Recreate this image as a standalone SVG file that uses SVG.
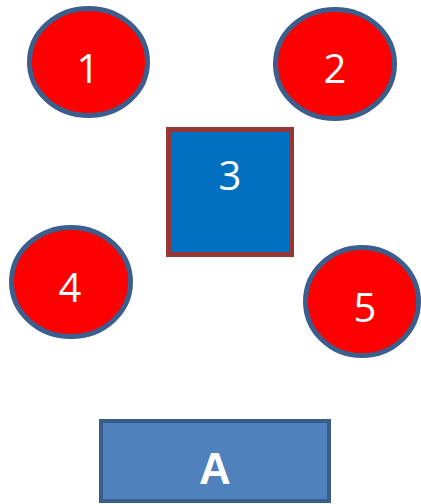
<svg xmlns="http://www.w3.org/2000/svg" width="421" height="504" viewBox="0 0 421 504">
<style>
.c{fill:#ff0000;stroke:#3b5e8c;stroke-width:5}
.t{fill:#ffffff;font-family:"Open Sans","Liberation Sans",sans-serif;font-size:40px;text-anchor:middle}
.b{font-weight:bold;font-family:"Liberation Sans",Arial,sans-serif;font-size:44px}
</style>
<rect width="421" height="504" fill="#ffffff"/>
<g id="n1"><ellipse class="c" cx="88.5" cy="62" rx="59" ry="53.5"/><text class="t" x="88" y="83">1</text></g>
<g id="n2"><ellipse class="c" cx="335" cy="64" rx="59.5" ry="54.5"/><text class="t" x="335" y="83">2</text></g>
<g id="n3"><rect x="168.5" y="129.5" width="123" height="125" fill="#0070c0" stroke="#953735" stroke-width="5"/><text class="t" x="230" y="190">3</text></g>
<g id="n4"><ellipse class="c" cx="71" cy="282" rx="59.5" ry="54.5"/><text class="t" x="70" y="302">4</text></g>
<g id="n5"><ellipse class="c" cx="362" cy="301.5" rx="56.5" ry="54"/><text class="t" x="365" y="322">5</text></g>
<g id="nA"><rect x="101" y="421" width="228" height="80" fill="#4f81bd" stroke="#385d8a" stroke-width="4"/><text class="t b" x="215" y="484">A</text></g>
<g id="connectors"></g>
</svg>
